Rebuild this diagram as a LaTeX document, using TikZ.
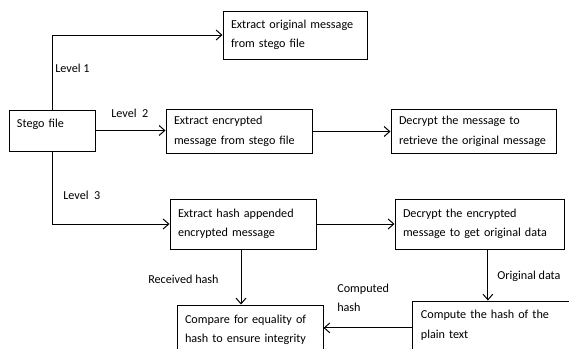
\documentclass[tikz,border=0pt]{standalone}
\usepackage{fontspec}
\setmainfont{Carlito}
\usetikzlibrary{arrows.meta, positioning}

\begin{document}
\begin{tikzpicture}[
    font=\fontsize{8.65}{13.9}\selectfont,
    box/.style={draw, line width=0.7pt, align=left, inner xsep=0.2cm,
                inner ysep=0pt},
    lbl/.style={anchor=west, inner sep=0pt},
    flow/.style={->, line width=0.7pt},
    >={Straight Barb[length=4pt, width=7pt]}
  ]
  \useasboundingbox (0, 0) rectangle (14.225, -8.725);

  % Input
  \node[box, text width=1.75cm, minimum height=1.025cm, text depth=0.35cm]
       (stego) at (1.3, -3.2625) {Stego file};

  % Level 1
  \node[box, text width=3.2cm, minimum height=1.2cm] (lvlone) at (7.375, -0.875)
       {Extract original message\\from stego file};

  % Level 2
  \node[box, text width=3.25cm, minimum height=1.1cm] (extenc) at (5.975, -3.2875)
       {Extract encrypted\\message from stego file};
  \node[box, text width=3.725cm, minimum height=1.1cm] (decmsg) at (11.8375, -3.2875)
       {Decrypt the message to\\retrieve the original message};

  % Level 3
  \node[box, text width=3.25cm, minimum height=1.25cm] (exthash) at (6.075, -5.6)
       {Extract hash appended\\encrypted message};
  \node[box, text width=3.825cm, minimum height=1.25cm] (decdata) at (11.9875, -5.6)
       {Decrypt the encrypted\\message to get original data};
  \node[box, text width=4.275cm, minimum height=1.225cm] (comphash) at (12.66, -8.1375)
       {Compute the hash of the\\plain text};
  \node[box, text width=3.25cm, minimum height=1.25cm] (compare) at (6.25, -8.25)
       {Compare for equality of\\hash to ensure integrity};

  % Connectors
  \draw[flow] (stego.north) |- (lvlone.west);
  \draw[flow] (stego.east) -- (stego.east -| extenc.west);
  \draw[flow] (extenc.east) -- (decmsg.west);
  \draw[flow] (stego.south) |- (exthash.west);
  \draw[flow] (exthash.east) -- (decdata.west);
  \draw[flow] ([xshift=-0.05cm]exthash.south) -- ([xshift=-0.05cm]exthash.south |- compare.north);
  \draw[flow] ([xshift=0.21cm]decdata.south) -- ([xshift=0.21cm]decdata.south |- comphash.north);
  \draw[flow] ([yshift=-0.06cm]comphash.west) -- ([yshift=-0.06cm]comphash.west -| compare.east);

  % Labels
  \node[lbl] (lone) at (1.375, -1.7) {Level 1};
  \node[lbl] (ltwo) at (2.775, -2.825) {Level\ \ 2};
  \node[lbl] (lthree) at (1.575, -4.875) {Level\ \ 3};
  \node[lbl] (rcvd) at (3.7, -6.975) {Received hash};
  \node[lbl] (orig) at (12.425, -6.9) {Original data};
  \node[lbl, align=left] (cmpd) at (8.425, -7.45) {Computed\\hash};
\end{tikzpicture}
\end{document}
